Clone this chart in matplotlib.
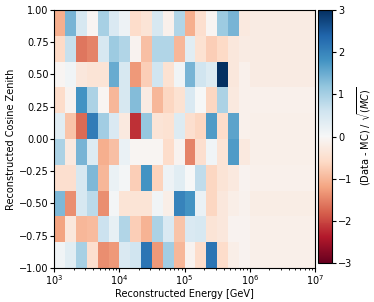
import numpy as np
import matplotlib
matplotlib.use("Agg")
import matplotlib.pyplot as plt

# bin edges: 6 per decade up to 1e6, then one overflow bin to 1e7
energy_edges = list(np.logspace(3, 6, 19)) + [1e7]
zenith_edges = np.linspace(-1, 1, 11)

# pull values (Data - MC)/sqrt(MC), rows from cos zenith = 1 (top) to -1 (bottom)
pull_rows = [
    [-1.1, 1.4, 0.5, -0.05, 1.0, 0.45, 0.15, -0.55, -0.4, 0.5, -0.15, 0.9, -1.1, -0.5, -0.05, 1.1, 1.4, -0.3, -0.25],
    [-0.6, 0.7, -1.6, -1.5, 0.5, 1.1, 0.9, -0.1, -0.9, 0.9, 0.9, -1.0, 0.35, -0.45, -0.75, -0.6, -0.35, -0.25, -0.25],
    [-0.05, 0.1, -0.35, -0.4, -0.4, 1.5, 0.5, -1.3, -0.75, 0.6, -0.45, 0.1, 1.4, 0.6, 0.4, 3.0, -0.35, -0.15, -0.25],
    [-0.55, -0.1, 1.8, 0.95, -0.05, -1.0, 0.5, 1.3, -0.25, -1.0, -0.65, -0.45, 0.45, 0.0, -0.65, 0.95, -0.3, -0.15, -0.15],
    [0.35, -0.85, -1.7, 2.1, 1.05, 0.45, -0.3, -2.2, 1.15, -0.4, -0.45, 0.4, -0.5, -0.65, 1.7, -0.55, 1.6, -0.15, -0.18],
    [0.95, -0.3, 1.4, 0.4, -1.1, -0.9, 0.2, -0.05, -0.05, -0.05, -0.55, -0.1, -1.5, -0.5, 0.1, -0.4, 1.7, -0.3, -0.18],
    [-0.5, -0.5, 0.5, 1.35, -1.0, 0.2, 0.05, -0.75, 1.8, -0.7, 0.15, 0.35, 0.0, 0.75, -0.65, -0.4, -0.3, -0.1, -0.15],
    [1.35, -1.4, 0.5, 0.8, -1.4, 0.05, -0.4, -0.4, -0.4, 0.1, -0.2, 2.0, 1.8, 0.2, -0.65, -0.35, -0.2, -0.12, -0.22],
    [-1.2, -0.35, -1.0, -0.95, 0.65, 0.25, 0.9, -0.75, -1.05, 0.95, 0.45, -0.85, 0.45, 0.5, -0.4, -0.35, -0.1, -0.1, -0.17],
    [0.1, 0.35, 1.0, -0.5, -1.4, -1.3, 0.45, 0.6, 2.2, -1.3, 1.05, -1.0, -0.1, -0.55, 2.2, -0.55, -0.2, -0.1, -0.18],
]

# flip so that first row is the lowest zenith bin
pull = np.array(pull_rows[::-1])

fs = 7
fig = plt.figure(figsize=(3.74, 3.02), dpi=100)
ax = fig.add_axes([0.145, 0.113, 0.697, 0.854])
cax = fig.add_axes([0.851, 0.129, 0.038, 0.838])

mesh = ax.pcolormesh(energy_edges, zenith_edges, pull, cmap="RdBu", vmin=-3, vmax=3)
ax.set_xscale("log")
ax.set_xlim(1e3, 1e7)
ax.set_ylim(-1, 1)
ax.set_yticks(np.arange(-1, 1.01, 0.25))
ax.set_xlabel("Reconstructed Energy [GeV]", fontsize=fs, labelpad=1)
ax.set_ylabel("Reconstructed Cosine Zenith", fontsize=fs, labelpad=2)
ax.tick_params(labelsize=fs, length=3, pad=1)
ax.tick_params(which="minor", length=1.5)

cb = fig.colorbar(mesh, cax=cax)
cb.set_label(r"(Data - MC) / $\sqrt{(MC)}$", fontsize=fs, labelpad=2)
cb.ax.tick_params(labelsize=fs, length=3, pad=1)

fig.savefig("out.png", dpi=100)
